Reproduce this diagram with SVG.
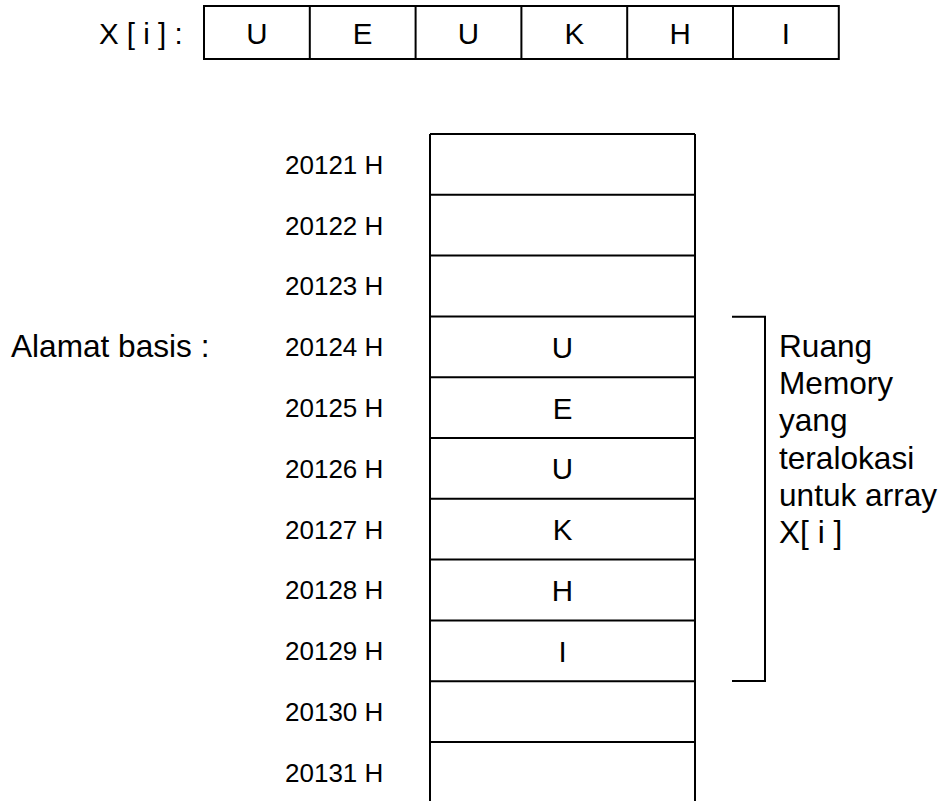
<svg xmlns="http://www.w3.org/2000/svg" width="942" height="801" viewBox="0 0 942 801">
<style>
  text { font-family: "Liberation Sans", Arial, sans-serif; fill: #000; }
  .cell { fill: #fff; stroke: #000; stroke-width: 2; }
  .line { fill: none; stroke: #000; stroke-width: 2; }
  .big { font-size: 29.5px; text-anchor: middle; }
  .addr { font-size: 26px; }
  .note { font-size: 31.6px; }
</style>
<rect width="942" height="801" fill="#fff"/>

<g id="array-x">
  <text class="big" x="99" y="43.5" style="text-anchor:start">X [ i ] :</text>
  <rect class="cell" x="204" y="6" width="634.8" height="53"/>
  <path class="line" d="M309.8 6V59M415.6 6V59M521.4 6V59M627.2 6V59M733 6V59"/>
  <text class="big" x="256.9" y="43.5">U</text>
  <text class="big" x="362.7" y="43.5">E</text>
  <text class="big" x="468.5" y="43.5">U</text>
  <text class="big" x="574.3" y="43.5">K</text>
  <text class="big" x="680.1" y="43.5">H</text>
  <text class="big" x="785.9" y="43.5">I</text>
</g>

<g id="memory">
  <path class="line" d="M430 134H695M430 134V802M695 134V802"/>
  <path class="line" d="M430 194.8H695M430 255.6H695M430 316.4H695M430 377.2H695M430 438H695M430 498.8H695M430 559.6H695M430 620.4H695M430 681.2H695M430 742H695"/>
  <text class="addr" x="285" y="173.8">20121 H</text>
  <text class="addr" x="285" y="234.6">20122 H</text>
  <text class="addr" x="285" y="295.4">20123 H</text>
  <text class="addr" x="285" y="356.2">20124 H</text>
  <text class="addr" x="285" y="417">20125 H</text>
  <text class="addr" x="285" y="477.8">20126 H</text>
  <text class="addr" x="285" y="538.6">20127 H</text>
  <text class="addr" x="285" y="599.4">20128 H</text>
  <text class="addr" x="285" y="660.2">20129 H</text>
  <text class="addr" x="285" y="721">20130 H</text>
  <text class="addr" x="285" y="781.8">20131 H</text>
  <text class="big" x="562.5" y="357.8">U</text>
  <text class="big" x="562.5" y="418.6">E</text>
  <text class="big" x="562.5" y="479.4">U</text>
  <text class="big" x="562.5" y="540.2">K</text>
  <text class="big" x="562.5" y="601">H</text>
  <text class="big" x="562.5" y="661.8">I</text>
</g>

<g id="base-label">
  <text class="note" x="11" y="356.5">Alamat basis :</text>
</g>

<g id="connectors">
  <path class="line" d="M732 316.7H765V681H732"/>
</g>

<g id="bracket-label">
  <text class="note" x="779" y="356.7">Ruang</text>
  <text class="note" x="779" y="394">Memory</text>
  <text class="note" x="779" y="431.3">yang</text>
  <text class="note" x="779" y="468.6">teralokasi</text>
  <text class="note" x="779" y="505.9">untuk array</text>
  <text class="note" x="779" y="543.2">X[ i ]</text>
</g>
</svg>
